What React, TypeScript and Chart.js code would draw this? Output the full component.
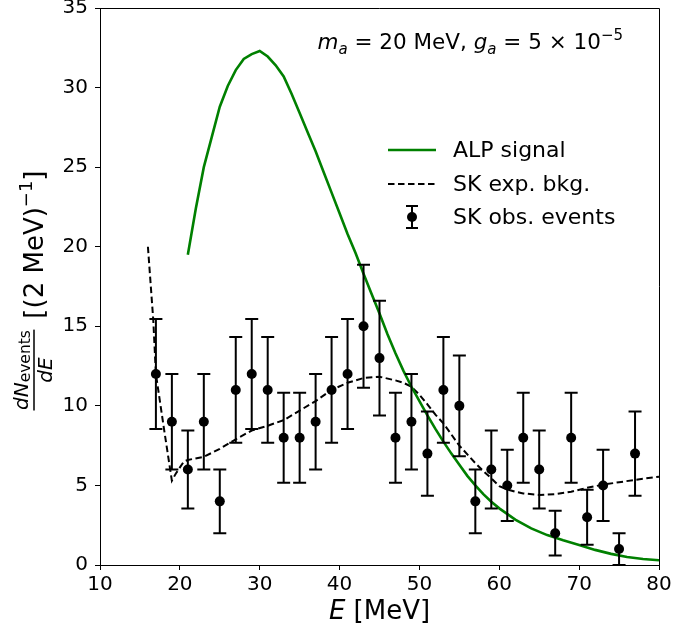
import React, { useEffect, useRef } from "react";
import { Chart, registerables } from "chart.js";

Chart.register(...registerables);

// ALP signal curve
const sigE = [21, 22, 23, 24, 25, 26, 27, 28, 29, 30, 31, 32, 33, 34, 35, 36, 37, 38, 39, 40, 41, 42, 43, 44, 45, 46, 47, 48, 49, 50, 51, 52, 53, 54, 55, 56, 57, 58, 59, 60, 62, 64, 66, 68, 70, 72, 74, 76, 78, 80];
const sigN = [19.5, 22.4, 25.0, 26.9, 28.8, 30.1, 31.1, 31.8, 32.1, 32.3, 31.95, 31.4, 30.7, 29.6, 28.4, 27.2, 26.0, 24.7, 23.4, 22.1, 20.8, 19.6, 18.3, 17.05, 15.8, 14.5, 13.3, 12.2, 11.2, 10.3, 9.4, 8.55, 7.75, 7.0, 6.3, 5.6, 5.0, 4.45, 3.98, 3.56, 2.85, 2.3, 1.88, 1.55, 1.25, 0.95, 0.7, 0.5, 0.38, 0.3];

// SK expected background
const bkgE = [16, 16.67, 17, 18, 19, 19.5, 20.5, 21, 23, 25, 27, 29, 31, 33, 35, 37, 39, 41, 43, 45, 47, 48, 49, 50, 51, 52, 53, 54, 55, 56, 57, 58, 59, 60, 61, 62, 63, 65, 67, 69, 71, 73, 75, 77, 80];
const bkgN = [20.0, 15.4, 12.0, 8.6, 5.3, 5.75, 6.5, 6.6, 6.8, 7.3, 7.9, 8.45, 8.75, 9.1, 9.7, 10.3, 11.0, 11.45, 11.75, 11.83, 11.6, 11.45, 11.2, 10.7, 10.1, 9.45, 8.9, 8.2, 7.5, 6.95, 6.4, 5.9, 5.45, 4.95, 4.75, 4.6, 4.5, 4.4, 4.45, 4.6, 4.85, 5.05, 5.2, 5.35, 5.55];

// SK observed events
const obsE = [17, 19, 21, 23, 25, 27, 29, 31, 33, 35, 37, 39, 41, 43, 45, 47, 49, 51, 53, 55, 57, 59, 61, 63, 65, 67, 69, 71, 73, 75, 77];
const obsN = [12, 9, 6, 9, 4, 11, 12, 11, 8, 8, 9, 11, 12, 15, 13, 8, 9, 7, 11, 10, 4, 6, 5, 8, 6, 2, 8, 3, 5, 1, 7];
const obsErr = [3.46, 3.0, 2.45, 3.0, 2.0, 3.32, 3.46, 3.32, 2.83, 2.83, 3.0, 3.32, 3.46, 3.87, 3.61, 2.83, 3.0, 2.65, 3.32, 3.16, 2.0, 2.45, 2.24, 2.83, 2.45, 1.41, 2.83, 1.73, 2.24, 1.0, 2.65];

const legendLabels = ["ALP signal", "SK exp. bkg.", "SK obs. events"];
const xTicks = [10, 20, 30, 40, 50, 60, 70, 80];
const yTicks = [0, 5, 10, 15, 20, 25, 30, 35];

const FONT = "'DejaVu Sans'";
const GREEN = "#008000";

function drawErrorBar(ctx: CanvasRenderingContext2D, x: number, yTop: number, yBot: number, cy: number, cap: number, r: number) {
  ctx.strokeStyle = "#000";
  ctx.lineWidth = 2;
  ctx.beginPath();
  ctx.moveTo(x, yTop);
  ctx.lineTo(x, yBot);
  ctx.moveTo(x - cap, yTop);
  ctx.lineTo(x + cap, yTop);
  ctx.moveTo(x - cap, yBot);
  ctx.lineTo(x + cap, yBot);
  ctx.stroke();
  ctx.fillStyle = "#000";
  ctx.beginPath();
  ctx.arc(x, cy, r, 0, Math.PI * 2);
  ctx.fill();
}

const overlay = {
  id: "overlay",
  afterDatasetsDraw(chart: any) {
    const ctx: CanvasRenderingContext2D = chart.ctx;
    const xs = chart.scales.x;
    const ys = chart.scales.y;
    ctx.save();
    for (let i = 0; i < obsE.length; i++) {
      const x = xs.getPixelForValue(obsE[i]);
      const yT = ys.getPixelForValue(obsN[i] + obsErr[i]);
      const yB = ys.getPixelForValue(Math.max(0, obsN[i] - obsErr[i]));
      drawErrorBar(ctx, x, yT, yB, ys.getPixelForValue(obsN[i]), 6.5, 5);
    }
    ctx.restore();
  },
  afterDraw(chart: any) {
    const ctx: CanvasRenderingContext2D = chart.ctx;
    const a = chart.chartArea;
    ctx.save();
    // frame
    ctx.strokeStyle = "#000";
    ctx.lineWidth = 1;
    ctx.beginPath();
    ctx.moveTo(a.left, a.top + 0.5);
    ctx.lineTo(a.right + 0.5, a.top + 0.5);
    ctx.lineTo(a.right + 0.5, a.bottom);
    ctx.stroke();

    // legend
    const lx0 = 388, lx1 = 436, tx = 453;
    const rows = [150, 184, 217];
    ctx.lineWidth = 2.5;
    ctx.strokeStyle = GREEN;
    ctx.beginPath();
    ctx.moveTo(lx0, rows[0]);
    ctx.lineTo(lx1, rows[0]);
    ctx.stroke();
    ctx.lineWidth = 2;
    ctx.strokeStyle = "#000";
    ctx.setLineDash([6.5, 3.5]);
    ctx.beginPath();
    ctx.moveTo(lx0, rows[1]);
    ctx.lineTo(lx1, rows[1]);
    ctx.stroke();
    ctx.setLineDash([]);
    drawErrorBar(ctx, 412, rows[2] - 11, rows[2] + 11, rows[2], 6, 5);
    ctx.fillStyle = "#000";
    ctx.font = `22px ${FONT}`;
    ctx.textBaseline = "middle";
    ctx.textAlign = "left";
    legendLabels.forEach((t, i) => ctx.fillText(t, tx, rows[i] + 1));

    // annotation: m_a = 20 MeV, g_a = 5 × 10^-5
    const s = 21.5;
    const parts: [string, string][] = [
      ["m", "italic"],
      ["a", "italic-sub"],
      [" = 20 MeV, ", "normal"],
      ["g", "italic"],
      ["a", "italic-sub"],
      [" = 5 × 10", "normal"],
      ["−5", "sup"],
    ];
    const fontFor = (k: string) =>
      k === "italic" ? `italic ${s}px ${FONT}` : k === "italic-sub" ? `italic ${Math.round(s * 0.7)}px ${FONT}` : k === "sup" ? `${Math.round(s * 0.7)}px ${FONT}` : `${s}px ${FONT}`;
    let total = 0;
    for (const p of parts) {
      ctx.font = fontFor(p[1]);
      total += ctx.measureText(p[0]).width;
    }
    let ax = 623 - total;
    const base = 49;
    ctx.textBaseline = "alphabetic";
    for (const p of parts) {
      ctx.font = fontFor(p[1]);
      const dy = p[1] === "italic-sub" ? 5 : p[1] === "sup" ? -9 : 0;
      ctx.fillText(p[0], ax, base + dy);
      ax += ctx.measureText(p[0]).width;
    }

    // x label
    ctx.font = `italic 26px ${FONT}`;
    const eW = ctx.measureText("E").width;
    ctx.font = `26px ${FONT}`;
    const restW = ctx.measureText(" [MeV]").width;
    const xcx = (a.left + a.right) / 2;
    const xx = xcx - (eW + restW) / 2;
    ctx.textBaseline = "middle";
    ctx.font = `italic 26px ${FONT}`;
    ctx.fillText("E", xx, 612);
    ctx.font = `26px ${FONT}`;
    ctx.fillText(" [MeV]", xx + eW, 612);

    // y label (rotated)
    const cy = (a.top + a.bottom) / 2;
    ctx.translate(35, cy);
    ctx.rotate(-Math.PI / 2);
    const fs = 20, fsub = 15.5, L = 26;
    ctx.font = `italic ${fs}px ${FONT}`;
    const dNw = ctx.measureText("dN").width;
    ctx.font = `${fsub}px ${FONT}`;
    const evw = ctx.measureText("events").width;
    ctx.font = `italic ${fs}px ${FONT}`;
    const dEw = ctx.measureText("dE").width;
    const numW = dNw + evw;
    const fracW = Math.max(numW, dEw) + 1;
    ctx.font = `${L}px ${FONT}`;
    const b1 = "[(2 MeV)";
    const b1w = ctx.measureText(b1).width;
    ctx.font = `${Math.round(L * 0.7)}px ${FONT}`;
    const supw = ctx.measureText("−1").width;
    ctx.font = `${L}px ${FONT}`;
    const b2w = ctx.measureText("]").width;
    const gap = 11;
    const totalW = fracW + gap + b1w + supw + b2w;
    let px = -totalW / 2 - 4;
    ctx.textBaseline = "alphabetic";
    // numerator
    const nx = px + (fracW - numW) / 2;
    ctx.font = `italic ${fs}px ${FONT}`;
    ctx.fillText("dN", nx, -7);
    ctx.font = `${fsub}px ${FONT}`;
    ctx.fillText("events", nx + dNw, -5);
    // bar
    ctx.fillRect(px, -1.75, fracW, 1.5);
    // denominator
    ctx.font = `italic ${fs}px ${FONT}`;
    ctx.fillText("dE", px + (fracW - dEw) / 2, 17);
    // bracket
    px += fracW + gap;
    const bb = 8;
    ctx.font = `${L}px ${FONT}`;
    ctx.fillText(b1, px, bb);
    px += b1w;
    ctx.font = `${Math.round(L * 0.7)}px ${FONT}`;
    ctx.fillText("−1", px, bb - 11);
    px += supw;
    ctx.font = `${L}px ${FONT}`;
    ctx.fillText("]", px, bb);
    ctx.restore();
  },
};

export default function App() {
  const ref = useRef<HTMLCanvasElement | null>(null);
  useEffect(() => {
    if (!ref.current) return;
    const tickFont = { family: "DejaVu Sans", size: 20 };
    const chart = new Chart(ref.current, {
      type: "scatter",
      data: {
        datasets: [
          {
            label: legendLabels[0],
            data: sigE.map((e, i) => ({ x: e, y: sigN[i] })),
            showLine: true,
            borderColor: GREEN,
            borderWidth: 2.6,
            pointRadius: 0,
            tension: 0,
          },
          {
            label: legendLabels[1],
            data: bkgE.map((e, i) => ({ x: e, y: bkgN[i] })),
            showLine: true,
            borderColor: "#000",
            borderWidth: 2,
            borderDash: [6.5, 3.5],
            pointRadius: 0,
            tension: 0,
          },
          {
            label: legendLabels[2],
            data: obsE.map((e, i) => ({ x: e, y: obsN[i] })),
            showLine: false,
            pointRadius: 0,
            backgroundColor: "#000",
          },
        ],
      },
      options: {
        animation: false,
        responsive: false,
        devicePixelRatio: 1,
        layout: { padding: { left: 0, right: 16, top: 8, bottom: 0 } },
        plugins: { legend: { display: false }, tooltip: { enabled: false } },
        scales: {
          x: {
            type: "linear",
            min: 10,
            max: 80,
            afterBuildTicks: (s: any) => {
              s.ticks = xTicks.map((v) => ({ value: v }));
            },
            afterFit: (s: any) => {
              s.height = 65;
              s.paddingLeft = 0;
              s.paddingRight = 0;
            },
            ticks: { font: tickFont, color: "#000", padding: 3, maxRotation: 0 },
            grid: { drawOnChartArea: false, drawTicks: true, tickLength: 5, color: "#000", lineWidth: 1 },
            border: { display: true, color: "#000", width: 1 },
          },
          y: {
            type: "linear",
            min: 0,
            max: 35,
            afterBuildTicks: (s: any) => {
              s.ticks = yTicks.map((v) => ({ value: v }));
            },
            afterFit: (s: any) => {
              s.width = 100;
              s.paddingTop = 0;
              s.paddingBottom = 0;
            },
            ticks: { font: tickFont, color: "#000", padding: 7 },
            grid: { drawOnChartArea: false, drawTicks: true, tickLength: 5, color: "#000", lineWidth: 1 },
            border: { display: true, color: "#000", width: 1 },
          },
        },
      },
      plugins: [overlay],
    } as any);
    return () => chart.destroy();
  }, []);
  return (
    <div style={{ position: "absolute", left: 0, top: 0, width: 675, height: 630, background: "#fff" }}>
      <canvas ref={ref} width={675} height={630} style={{ display: "block" }} />
    </div>
  );
}
